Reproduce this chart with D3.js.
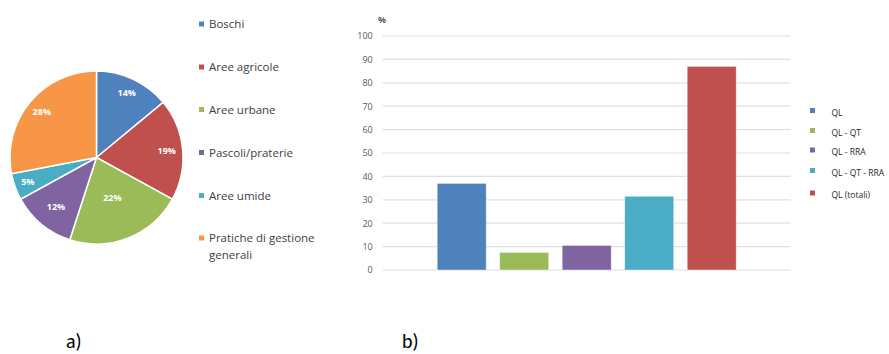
<!DOCTYPE html>
<html><head><meta charset="utf-8">
<script src="https://cdn.jsdelivr.net/npm/d3@7"></script>
<style>body{margin:0;background:#fff}svg{display:block}</style>
</head><body>
<svg id="c" width="889" height="354"></svg>
<script>
const pieCategories = ["Boschi","Aree agricole","Aree urbane","Pascoli/praterie","Aree umide","Pratiche di gestione generali"];
const pieValues = [14,19,22,12,5,28];
const pieColors = ["#4f81bd","#c0504d","#9bbb59","#8064a2","#4bacc6","#f79646"];

const barSeries = ["QL","QL - QT","QL - RRA","QL - QT - RRA","QL (totali)"];
const barValues = [37,7.5,10.5,31.5,87];
const barColors = ["#4f81bd","#9bbb59","#8064a2","#4bacc6","#c0504d"];
const yTicks = [0,10,20,30,40,50,60,70,80,90,100];

const svg = d3.select("#c");

// ---- Pie (a)
const cx = 96.5, cy = 157.5, R = 86.5;
const pie = d3.pie().sort(null).value(d => d)(pieValues);
const arc = d3.arc().innerRadius(0).outerRadius(R);
const gp = svg.append("g").attr("transform", `translate(${cx},${cy})`);
gp.selectAll("path").data(pie).join("path")
  .attr("d", arc).attr("fill", (d,i) => pieColors[i])
  .attr("stroke", "#fff").attr("stroke-width", 1.5);
const labR = [71,70.5,43,63.5,73,71];
gp.selectAll("text").data(pie).join("text")
  .attr("transform", (d,i) => {
    const a = (d.startAngle + d.endAngle)/2;
    return `translate(${Math.sin(a)*labR[i]},${-Math.cos(a)*labR[i]})`;
  })
  .attr("text-anchor","middle").attr("dy","0.35em")
  .attr("fill","#fff").attr("font-family","Open Sans, sans-serif")
  .attr("font-size", 9).attr("font-weight","bold")
  .text(d => d.data + "%");

// Pie legend
const lg = svg.append("g");
const legY = [24,67,109.5,152.5,195.5,238];
pieCategories.forEach((c,i) => {
  lg.append("rect").attr("x",199).attr("y",legY[i]-2.5).attr("width",5).attr("height",5).attr("fill",pieColors[i]);
  const t = lg.append("text").attr("x",209).attr("y",legY[i]).attr("dy","0.35em")
    .attr("font-family","Open Sans, sans-serif").attr("font-size",11.5).attr("fill","#404040");
  if (i === 5) {
    t.text("Pratiche di gestione");
    lg.append("text").attr("x",209).attr("y",legY[i]+17).attr("dy","0.35em")
      .attr("font-family","Open Sans, sans-serif").attr("font-size",11.5).attr("fill","#404040").text("generali");
  } else t.text(c);
});

// ---- Bar (b)
const x0 = 382.7, x1 = 790.7, yTop = 36, yBot = 270;
const x = d3.scaleBand().domain(barSeries).range([x0, x1]).paddingInner(0.216).paddingOuter(0.872);
const y = d3.scaleLinear().domain([0,100]).range([yBot, yTop]);
const gb = svg.append("g");
gb.selectAll("line.grid").data(yTicks).join("line").attr("class","grid")
  .attr("x1",x0).attr("x2",x1).attr("y1",d=>y(d)).attr("y2",d=>y(d))
  .attr("stroke","#e0e0e0").attr("stroke-width",1.2);
const ax = gb.append("g").attr("transform",`translate(${x0},0)`)
  .call(d3.axisLeft(y).tickValues(yTicks).tickSize(0).tickPadding(10));
ax.select(".domain").remove();
ax.selectAll("text").attr("font-family","Open Sans, sans-serif").attr("font-size",9).attr("fill","#595959");
gb.append("text").attr("x",382).attr("y",20).attr("text-anchor","middle").attr("dy","0.35em")
  .attr("font-family","Open Sans, sans-serif").attr("font-size",9).attr("font-weight","bold").attr("fill","#595959").text("%");
gb.selectAll("rect.bar").data(barValues).join("rect").attr("class","bar")
  .attr("x",(d,i)=>x(barSeries[i])).attr("width",x.bandwidth())
  .attr("y",d=>y(d)).attr("height",d=>yBot-y(d))
  .attr("fill",(d,i)=>barColors[i]).attr("stroke","#fff").attr("stroke-opacity",0.5).attr("stroke-width",0.8);

// Bar legend
const bly = [113,133,152.5,173,195.5];
barSeries.forEach((s,i) => {
  gb.append("rect").attr("x",810).attr("y",bly[i]-5).attr("width",5).attr("height",5).attr("fill",barColors[i]);
  gb.append("text").attr("x",831.5).attr("y",bly[i]).attr("dy","0.35em")
    .attr("font-family","Open Sans, sans-serif").attr("font-size",8.5).attr("fill","#262626").text(s);
});

// Panel labels
svg.append("text").attr("x",66).attr("y",348).attr("font-family","Carlito, Liberation Sans, sans-serif").attr("font-size",20).attr("fill","#000").text("a)");
svg.append("text").attr("x",402).attr("y",348).attr("font-family","Carlito, Liberation Sans, sans-serif").attr("font-size",20).attr("fill","#000").text("b)");
</script>
</body></html>
